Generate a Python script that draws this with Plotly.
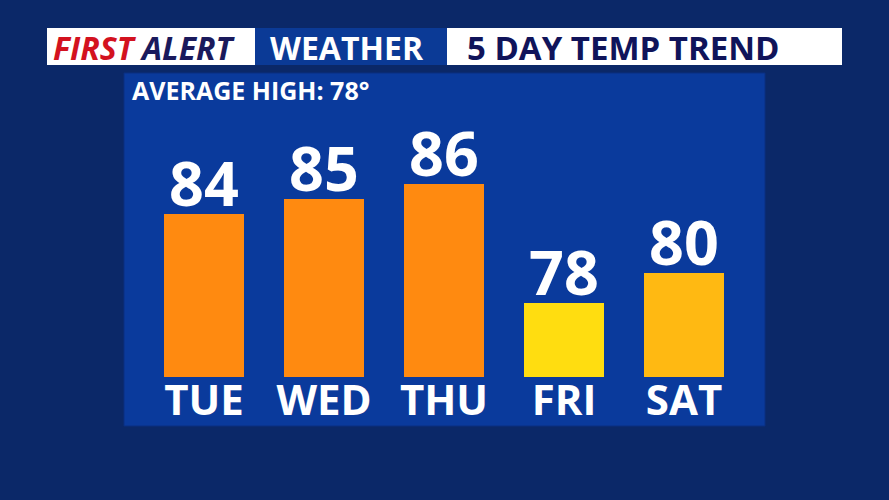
import plotly.graph_objects as go

days = ["TUE", "WED", "THU", "FRI", "SAT"]
highs = [84, 85, 86, 78, 80]
bar_colors = ["#FF8A10", "#FF8A10", "#FF8A10", "#FFDD10", "#FFB912"]
average_high = 78

W, H = 889, 500
FONT = "Open Sans"
L, R, T, B = 144, 145, 73, 123
PW, PH = W - L - R, H - T - B


def px(x):
    return (x - L) / PW


def py(y):
    return (H - B - y) / PH


fig = go.Figure(go.Bar(
    x=days, y=highs,
    marker=dict(color=bar_colors, line=dict(width=0)),
    width=0.667,
    hoverinfo="skip",
))

shapes = [
    dict(type="rect", xref="paper", yref="paper", x0=px(124), x1=px(765), y0=py(426), y1=py(73),
         fillcolor="#0A3A9C", line=dict(color="#0a2f80", width=1), layer="below"),
    dict(type="rect", xref="paper", yref="paper", x0=px(47), x1=px(255), y0=py(65), y1=py(28),
         fillcolor="white", line=dict(width=0), layer="below"),
    dict(type="rect", xref="paper", yref="paper", x0=px(255), x1=px(447), y0=py(65), y1=py(28),
         fillcolor="#0B3A96", line=dict(width=0), layer="below"),
    dict(type="rect", xref="paper", yref="paper", x0=px(447), x1=px(842), y0=py(65), y1=py(28),
         fillcolor="white", line=dict(width=0), layer="below"),
]

annotations = [
    dict(xref="paper", yref="paper", x=px(51), y=py(47), xanchor="left", yanchor="middle",
         text="<i><b><span style='color:#D3121F'>FIRST</span> <span style='color:#1A1A5C'>ALERT</span></b></i>",
         font=dict(family=FONT, size=32), showarrow=False),
    dict(xref="paper", yref="paper", x=px(347), y=py(47), xanchor="center", yanchor="middle",
         text="<b>WEATHER</b>", font=dict(family=FONT, size=32, color="white"), showarrow=False),
    dict(xref="paper", yref="paper", x=px(623), y=py(47), xanchor="center", yanchor="middle",
         text="<b>5 DAY TEMP TREND</b>", font=dict(family=FONT, size=33, color="#10145A"), showarrow=False),
    dict(xref="paper", yref="paper", x=px(130), y=py(90), xanchor="left", yanchor="middle",
         text=f"<b>AVERAGE HIGH: {average_high}°</b>", font=dict(family=FONT, size=25, color="white"),
         showarrow=False),
]

for d, v in zip(days, highs):
    annotations.append(dict(
        xref="x", yref="y", x=d, y=v, xanchor="center", yanchor="bottom", yshift=-12,
        text=f"<b>{v}</b>", font=dict(family=FONT, size=61, color="white"), showarrow=False,
    ))

fig.update_layout(
    width=W, height=H,
    margin=dict(l=L, r=R, t=T, b=B, pad=0),
    paper_bgcolor="#0B2868",
    plot_bgcolor="rgba(0,0,0,0)",
    showlegend=False,
    shapes=shapes,
    annotations=annotations,
    xaxis=dict(range=[-0.5, 4.5], showgrid=False, zeroline=False, showline=False, ticks="",
               tickfont=dict(family=FONT, size=42, color="white", weight="bold"),
               ticklabelstandoff=-5),
    yaxis=dict(range=[73, 93.5], visible=False, fixedrange=True),
    bargap=0,
)

fig.write_html("out.html", config={"displayModeBar": False},
               post_script="document.body.style.margin='0';")
